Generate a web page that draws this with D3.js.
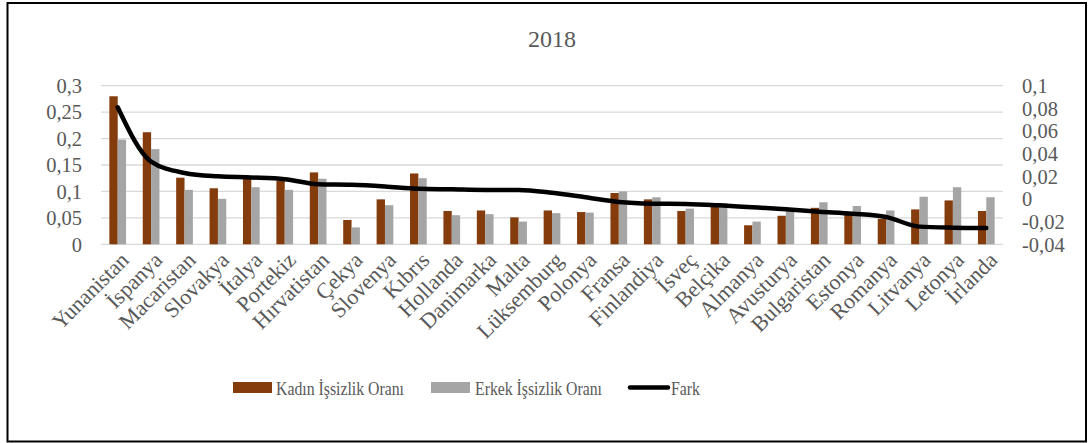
<!DOCTYPE html>
<html>
<head>
<meta charset="utf-8">
<script src="https://cdn.jsdelivr.net/npm/d3@7"></script>
<style>
  html, body { margin: 0; padding: 0; background: #fff; }
  svg { display: block; }
  text { font-family: "Liberation Serif", "Times New Roman", serif; fill: #595959; }
</style>
</head>
<body>
<svg id="chart" width="1088" height="443"></svg>
<script>
const categories = ["Yunanistan","İspanya","Macaristan","Slovakya","İtalya","Portekiz","Hırvatistan","Çekya","Slovenya","Kıbrıs","Hollanda","Danimarka","Malta","Lüksemburg","Polonya","Fransa","Finlandiya","İsveç","Belçika","Almanya","Avusturya","Bulgaristan","Estonya","Romanya","Litvanya","Letonya","İrlanda"];
const kadin = [0.280,0.212,0.126,0.106,0.127,0.120,0.136,0.046,0.085,0.134,0.063,0.064,0.051,0.064,0.061,0.097,0.085,0.063,0.072,0.036,0.054,0.069,0.060,0.048,0.066,0.083,0.063];
const erkek = [0.198,0.180,0.103,0.086,0.108,0.103,0.124,0.032,0.074,0.125,0.055,0.057,0.043,0.059,0.060,0.100,0.089,0.0675,0.078,0.043,0.063,0.0795,0.0725,0.064,0.090,0.108,0.089];
const fark = [0.081,0.033,0.023,0.020,0.019,0.0175,0.013,0.0125,0.011,0.009,0.0085,0.008,0.008,0.0055,0.0015,-0.0026,-0.0041,-0.0044,-0.0056,-0.0073,-0.0091,-0.0112,-0.013,-0.0159,-0.0244,-0.0253,-0.0256];
const leftTicks = [0,0.05,0.1,0.15,0.2,0.25,0.3];
const rightTicks = [-0.04,-0.02,0,0.02,0.04,0.06,0.08,0.1];
const seriesNames = ["Kadın İşsizlik Oranı","Erkek İşsizlik Oranı","Fark"];
const title = "2018";

const colors = { kadin: "#843C0C", erkek: "#A5A5A5", fark: "#000000", grid: "#D9D9D9" };
const fmt = v => String(+v.toFixed(2)).replace(".", ",");

const svg = d3.select("#chart");
const plot = { left: 101, right: 1003, top: 85.7, bottom: 244.3 };

// frame
svg.append("rect").attr("x", 7.5).attr("y", 3).attr("width", 1078.5).attr("height", 438.5)
  .attr("fill", "#fff").attr("stroke", "#000").attr("stroke-width", 2);

// title
svg.append("text").attr("x", 552).attr("y", 47).attr("text-anchor", "middle")
  .style("font-size", "24px").text(title);

const x = d3.scaleBand().domain(categories).range([plot.left, plot.right]).paddingInner(0).paddingOuter(0);
const yL = d3.scaleLinear().domain([0, 0.3]).range([plot.bottom, plot.top]);
const yR = d3.scaleLinear().domain([-0.04, 0.1]).range([plot.bottom, plot.top]);

// gridlines
svg.append("g").selectAll("line").data(leftTicks).join("line")
  .attr("x1", plot.left).attr("x2", plot.right)
  .attr("y1", d => yL(d)).attr("y2", d => yL(d))
  .attr("stroke", colors.grid).attr("stroke-width", 1.3);

// left axis
const axL = d3.axisLeft(yL).tickValues(leftTicks).tickFormat(fmt).tickSize(0).tickPadding(0);
const gL = svg.append("g").attr("transform", `translate(82,0)`).call(axL);
gL.select(".domain").remove();
gL.selectAll("text").style("font-size", "20.5px").attr("fill", "#595959").attr("dy", "0.33em")
  .style("font-family", "Liberation Serif, serif");

// right axis
const axR = d3.axisRight(yR).tickValues(rightTicks).tickFormat(fmt).tickSize(0).tickPadding(0);
const gR = svg.append("g").attr("transform", `translate(1022,0)`).call(axR);
gR.select(".domain").remove();
gR.selectAll("text").style("font-size", "20.5px").attr("fill", "#595959").attr("dy", "0.33em")
  .style("font-family", "Liberation Serif, serif");

// bars
const bw = x.bandwidth() / 4;
const gBars = svg.append("g");
gBars.selectAll("rect.k").data(categories).join("rect").attr("class", "k")
  .attr("x", (d) => x(d) + x.bandwidth()/2 - bw)
  .attr("width", bw)
  .attr("y", (d, i) => yL(kadin[i]))
  .attr("height", (d, i) => yL(0) - yL(kadin[i]))
  .attr("fill", colors.kadin);
gBars.selectAll("rect.e").data(categories).join("rect").attr("class", "e")
  .attr("x", (d) => x(d) + x.bandwidth()/2)
  .attr("width", bw)
  .attr("y", (d, i) => yL(erkek[i]))
  .attr("height", (d, i) => yL(0) - yL(erkek[i]))
  .attr("fill", colors.erkek);

// line
const line = d3.line()
  .x((d, i) => x(categories[i]) + x.bandwidth()/2)
  .y(d => yR(d))
  .curve(d3.curveMonotoneX);
svg.append("path").datum(fark).attr("d", line)
  .attr("fill", "none").attr("stroke", colors.fark).attr("stroke-width", 4.5)
  .attr("stroke-linejoin", "round").attr("stroke-linecap", "round");

// category labels
svg.append("g").selectAll("text").data(categories).join("text")
  .attr("transform", d => `translate(${x(d) + x.bandwidth()/2 + 7},${256}) rotate(-45)`)
  .attr("text-anchor", "end")
  .attr("dy", "0.35em")
  .style("font-size", "22px")
  .text(d => d);

// legend
const legendItems = [
  { name: seriesNames[0], type: "rect", color: colors.kadin, sx: 233, tx: 276, tw: 128 },
  { name: seriesNames[1], type: "rect", color: colors.erkek, sx: 431, tx: 475, tw: 127 },
  { name: seriesNames[2], type: "line", color: colors.fark, sx: 630, tx: 671, tw: 29 }
];
const lg = svg.append("g");
legendItems.forEach(it => {
  if (it.type === "rect") {
    lg.append("rect").attr("x", it.sx).attr("y", 382).attr("width", 39).attr("height", 11).attr("fill", it.color);
  } else {
    lg.append("line").attr("x1", it.sx).attr("x2", it.sx + 38).attr("y1", 387.5).attr("y2", 387.5)
      .attr("stroke", it.color).attr("stroke-width", 4.5).attr("stroke-linecap", "round");
  }
  lg.append("text").attr("x", it.tx).attr("y", 394.5).style("font-size", "19px")
    .attr("textLength", it.tw).attr("lengthAdjust", "spacingAndGlyphs").text(it.name);
});
</script>
</body>
</html>
